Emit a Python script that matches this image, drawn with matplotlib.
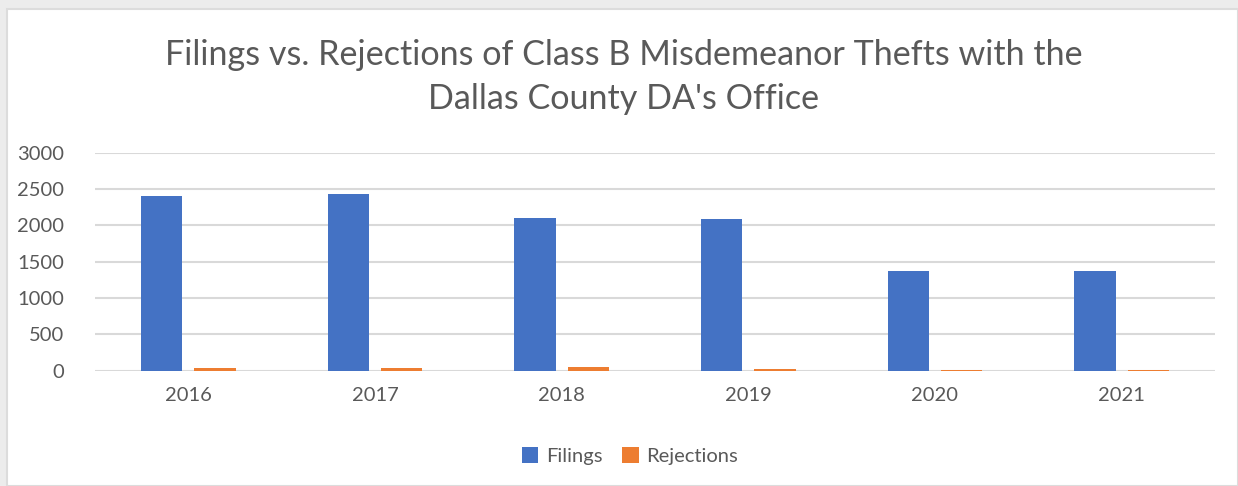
import numpy as np
import matplotlib.pyplot as plt
from matplotlib.patches import Rectangle

years = ['2016', '2017', '2018', '2019', '2020', '2021']
filings = [2407, 2425, 2100, 2082, 1366, 1366]
rejections = [40, 40, 45, 25, 5, 10]

plt.rcParams['font.family'] = ['Lato', 'DejaVu Sans']
grey = '#595959'

fig = plt.figure(figsize=(12.38, 4.86), dpi=100, facecolor='#ececec')
# white chart area inside the grey frame
bg = Rectangle((7 / 1238, 0), 1 - 7 / 1238, 1 - 9 / 486,
               transform=fig.transFigure, facecolor='white',
               edgecolor='#dcdcdc', linewidth=1.5, zorder=-5)
fig.add_artist(bg)

ax = fig.add_axes([95 / 1238, 1 - 370.7 / 486, 1120 / 1238, 218 / 486])
ax.set_zorder(2)
ax.set_facecolor('none')

x = np.arange(len(years))
w = 0.22
ax.bar(x - 0.143, filings, w, color='#4472C4', label='Filings', zorder=3)
ax.bar(x + 0.143, rejections, w, color='#ED7D31', label='Rejections', zorder=3)

ax.set_xlim(-0.5, len(years) - 0.5)
ax.set_ylim(0, 3000)
ax.set_yticks(np.arange(0, 3001, 500))
ax.set_xticks(x)
ax.set_xticklabels(years)
ax.grid(axis='y', color='#d9d9d9', linewidth=1.5, zorder=0)
for s in ax.spines.values():
    s.set_visible(False)
ax.tick_params(length=0, labelsize=14.5, colors=grey)
ax.tick_params(axis='y', pad=22)
ax.tick_params(axis='x', pad=12)

fig.text(624 / 1238, 1 - 77 / 486,
         "Filings vs. Rejections of Class B Misdemeanor Thefts with the\nDallas County DA's Office",
         ha='center', va='center', fontsize=24.6, color=grey,
         linespacing=1.45, zorder=3)

fig.legend(loc='center', bbox_to_anchor=(630 / 1238, 1 - 456 / 486), ncol=2,
           frameon=False, fontsize=14.5, labelcolor=grey, handlelength=0.8,
           handleheight=0.8, handletextpad=0.4, columnspacing=1.0)

fig.savefig('out.png', dpi=100, facecolor=fig.get_facecolor())
